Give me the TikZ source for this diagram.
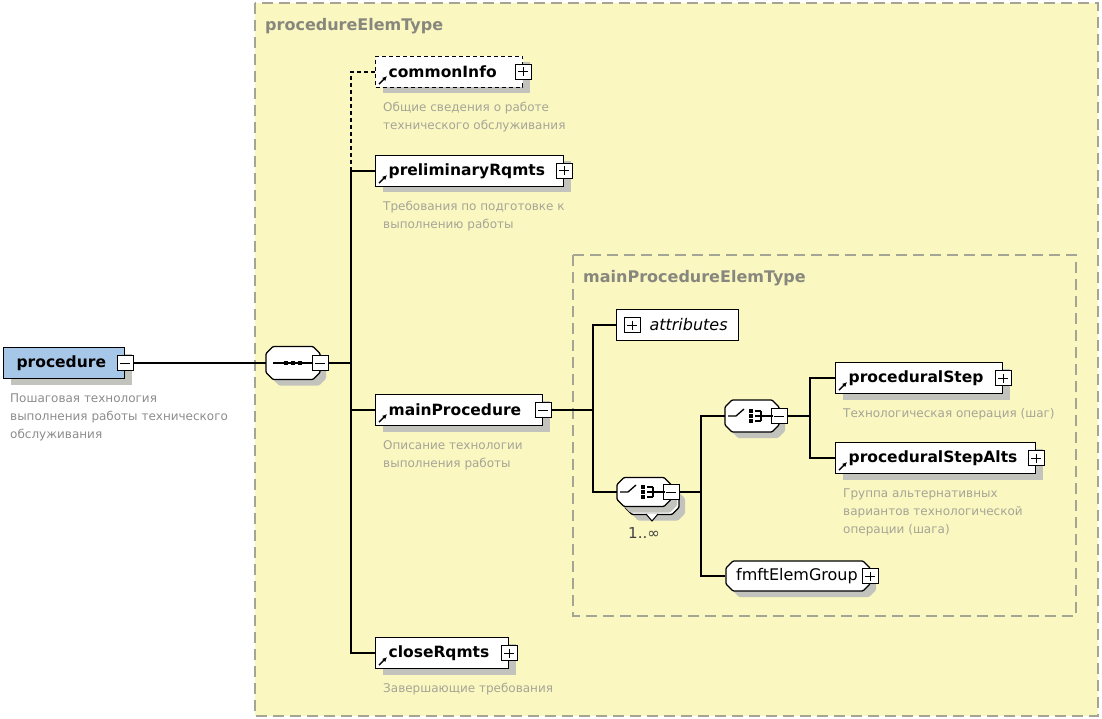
\documentclass[tikz,border=0pt]{standalone}
\usepackage{fontspec}
\setmainfont{DejaVu Sans}
\usetikzlibrary{calc, shadows, arrows.meta, positioning}

\definecolor{typefill}{RGB}{250,247,193}
\definecolor{typeline}{RGB}{165,165,150}
\definecolor{typetext}{RGB}{135,135,125}
\definecolor{desctext}{RGB}{165,165,150}
\definecolor{shade}{RGB}{195,195,190}
\definecolor{rootblue}{RGB}{166,199,232}

\tikzset{
  typebox/.style={draw=typeline, fill=typefill, line width=1.4pt, dash pattern=on 11pt off 6pt},
  typelabel/.style={anchor=west, inner sep=0pt, text=typetext, font=\bfseries\fontsize{16}{16}\selectfont},
  elem/.style={draw, fill=white, line width=1.3pt, anchor=west, align=left,
    text width=#1, inner xsep=13pt, minimum height=31pt,
    font=\bfseries\fontsize{15.5}{16}\selectfont,
    drop shadow={shadow xshift=7pt, shadow yshift=-6pt, fill=shade, opacity=1}},
  desc/.style={anchor=north west, align=left, inner sep=0pt, text=desctext,
    font=\fontsize{12}{18}\selectfont},
  octpath/.style 2 args={insert path={
    ++({-#1/2+7},{-#2/2}) -- ++({#1-14},0) -- ++(7,7) -- ++(0,{#2-14}) -- ++(-7,7)
    -- ++({-#1+14},0) -- ++(-7,-7) -- ++(0,{-#2+14}) -- cycle}},
  comp/.style={draw, fill=white, line width=1.3pt, rounded corners=1pt,
    drop shadow={shadow xshift=6pt, shadow yshift=-6pt, fill=shade, opacity=1}},
  compnode/.style 2 args={minimum width=#1, minimum height=#2, inner sep=0pt},
  pmbox/.style={draw, fill=white, line width=1pt, minimum width=16pt, minimum height=15pt, inner sep=0pt},
  minus/.style={pmbox, path picture={\draw[line width=1pt]
    ([xshift=3pt]path picture bounding box.west) -- ([xshift=-3pt]path picture bounding box.east);}},
  plus/.style={pmbox, path picture={\draw[line width=1pt]
    ([xshift=3pt]path picture bounding box.west) -- ([xshift=-3pt]path picture bounding box.east)
    ([yshift=-3pt]path picture bounding box.north) -- ([yshift=3pt]path picture bounding box.south);}},
  conn/.style={line width=1.3pt},
  refarrow/.style={-{Latex[length=4.5pt,width=4.5pt]}, line width=1.3pt},
  sym/.style={line width=1.3pt}
}

\begin{document}
\begin{tikzpicture}[x=1pt, y=-1pt]
  \useasboundingbox (0,0) rectangle (1102,719);

  % complex types
  \path[typebox] (255,3) rectangle (1098,716);
  \node[typelabel] (outerT) at (265,26) {procedureElemType};
  \path[typebox] (573,255) rectangle (1076,616);
  \node[typelabel] (innerT) at (583,278) {mainProcedureElemType};

  % root element
  \node[elem=95pt, fill=rootblue] (proc) at (3,363) {procedure};
  \node[minus] (procM) at (proc.east) {};
  \node[desc, text=black!45] (procD) at ([xshift=7pt, yshift=-14pt]proc.south west)
    {Пошаговая технология\\выполнения работы технического\\обслуживания};

  % sequence
  \draw[comp] (293,363) [octpath={54}{33}];
  \node[compnode={54pt}{33pt}] (seq) at (293,363) {};
  \node[minus] (seqM) at (seq.east) {};
  \draw[sym] ($(seq)+(-20,0)$) -- ($(seq)+(20,0)$);
  \foreach \dx in {-7,0,7}
    \fill ($(seq)+(\dx,0)$) +(-2.2,-2.2) rectangle +(2.2,2.2);

  % children of procedureElemType
  \node[elem=121pt, dash pattern=on 4pt off 3pt] (info) at (375,72) {commonInfo};
  \node[plus] (infoP) at (info.east) {};
  \node[desc] (infoD) at ([xshift=8pt, yshift=-14pt]info.south west)
    {Общие сведения о работе\\технического обслуживания};

  \node[elem=162pt] (pre) at (375,171) {preliminaryRqmts};
  \node[plus] (preP) at (pre.east) {};
  \node[desc] (preD) at ([xshift=8pt, yshift=-14pt]pre.south west)
    {Требования по подготовке к\\выполнению работы};

  \node[elem=141pt] (main) at (375,410) {mainProcedure};
  \node[minus] (mainM) at (main.east) {};
  \node[desc] (mainD) at ([xshift=8pt, yshift=-14pt]main.south west)
    {Описание технологии\\выполнения работы};

  \node[elem=107pt] (close) at (375,653) {closeRqmts};
  \node[plus] (closeP) at (close.east) {};
  \node[desc] (closeD) at ([xshift=8pt, yshift=-14pt]close.south west)
    {Завершающие требования};

  % mainProcedureElemType
  \node[draw, fill=white, line width=1.3pt, anchor=west, align=right, text width=100pt,
    inner xsep=11pt, minimum height=31pt, font=\itshape\fontsize{16}{16}\selectfont]
    (attr) at (616,325) {attributes};
  \node[plus] (attrP) at ([xshift=16pt]attr.west) {};

  % choice 1..oo (stacked)
  \draw[comp] (652,500) [octpath={54}{29}];
  \draw[line width=1pt, fill=white] (646,514) -- (652,521) -- (658,514);
  \draw[comp, drop shadow={opacity=0}] (644,492) [octpath={54}{29}];
  \node[compnode={54pt}{29pt}] (cho) at (644,492) {};
  \node[minus] (choM) at (cho.east) {};
  \node[font=\fontsize{15}{15}\selectfont, text=black!75] (choN) at (644,533) {1..∞};
  \draw[sym] ($(cho)+(-24,0)$) -- ++(8,0) -- ++(8,-7);
  \foreach \dy in {-5,0,5} {
    \fill ($(cho)+(-1,\dy)$) +(-2,-2) rectangle +(2,2);
    \draw[sym] ($(cho)+(3,\dy)$) -- ++(6,0);
  }
  \draw[sym] ($(cho)+(9,-5)$) -- ++(0,10) ($(cho)+(9,0)$) -- ++(12,0);

  % choice
  \draw[comp] (752,416) [octpath={54}{32}];
  \node[compnode={54pt}{32pt}] (chi) at (752,416) {};
  \node[minus] (chiM) at (chi.east) {};
  \draw[sym] ($(chi)+(-24,0)$) -- ++(8,0) -- ++(8,-7);
  \foreach \dy in {-5,0,5} {
    \fill ($(chi)+(-1,\dy)$) +(-2,-2) rectangle +(2,2);
    \draw[sym] ($(chi)+(3,\dy)$) -- ++(6,0);
  }
  \draw[sym] ($(chi)+(9,-5)$) -- ++(0,10) ($(chi)+(9,0)$) -- ++(12,0);

  \node[elem=141pt] (step) at (835,378) {proceduralStep};
  \node[plus] (stepP) at (step.east) {};
  \node[desc] (stepD) at ([xshift=8pt, yshift=-14pt]step.south west)
    {Технологическая операция (шаг)};

  \node[elem=174pt] (alts) at (835,458) {proceduralStepAlts};
  \node[plus] (altsP) at (alts.east) {};
  \node[desc] (altsD) at ([xshift=8pt, yshift=-14pt]alts.south west)
    {Группа альтернативных\\вариантов технологической\\операции (шага)};

  % group reference
  \draw[comp] (798,576) [octpath={144}{30}];
  \node[compnode={144pt}{30pt}, font=\fontsize{16}{16}\selectfont] (grp) at (797,576) {fmftElemGroup};
  \node[plus] (grpP) at ([xshift=1pt]grp.east) {};

  % reference arrows
  \foreach \n in {info, pre, main, close, step, alts}
    \draw[refarrow] ([xshift=4pt, yshift=4pt]\n.south west) -- ++(8,-8);

  % connectors
  \coordinate (seqFork) at (351,363);
  \coordinate (mainFork) at (593,410);
  \coordinate (choFork) at (701,492);
  \coordinate (chiFork) at (810,416);
  \draw[conn] (procM.east) -- (seq.west);
  \draw[conn] (seqM.east) -- (seqFork);
  \draw[conn, dash pattern=on 4pt off 3pt] (info.west) -| (seqFork |- pre.west);
  \draw[conn] (pre.west) -| (seqFork |- close.west) -- (close.west);
  \draw[conn] (seqFork |- main.west) -- (main.west);
  \draw[conn] (mainM.east) -- (mainFork);
  \draw[conn] (attr.west) -| (mainFork |- cho.west) -- (cho.west);
  \draw[conn] (choM.east) -- (choFork);
  \draw[conn] (chi.west) -| (choFork |- grp.west) -- (grp.west);
  \draw[conn] (chiM.east) -- (chiFork);
  \draw[conn] (step.west) -| (chiFork |- alts.west) -- (alts.west);
\end{tikzpicture}
\end{document}
